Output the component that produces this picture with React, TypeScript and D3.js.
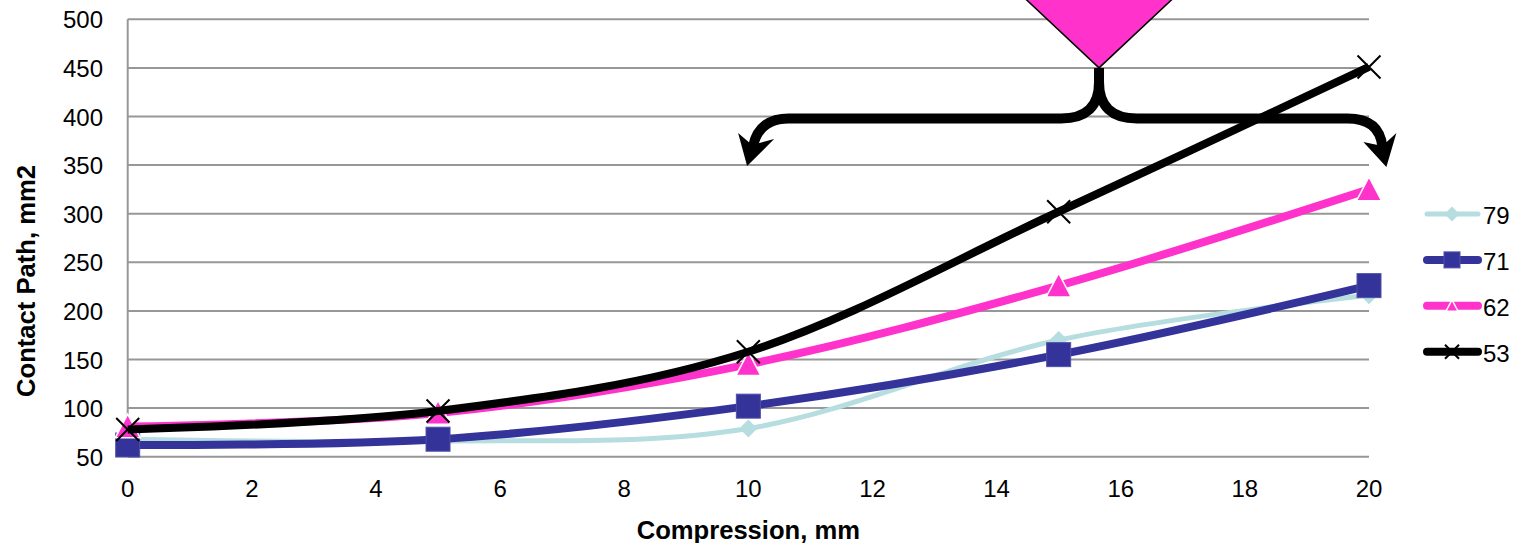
import React, { useEffect, useRef } from 'react';
import * as d3 from 'd3';

const compression = [0, 5, 10, 15, 20];
const seriesNames = ['79', '71', '62', '53'];
const values79 = [68, 66, 79, 170, 216];
const values71 = [62, 68, 102, 155, 226];
const values62 = [81, 95, 145, 226, 325];
const values53 = [78, 97, 158, 302, 451];
const xTicks = [0, 2, 4, 6, 8, 10, 12, 14, 16, 18, 20];
const yTicks = [50, 100, 150, 200, 250, 300, 350, 400, 450, 500];

const FONT = '"Liberation Sans", Arial, sans-serif';
const GRID = '#979797';

const STYLES = {
  '79': { color: '#b6dde0', width: 5, marker: 'diamond' },
  '71': { color: '#333399', width: 8, marker: 'square' },
  '62': { color: '#ff33cc', width: 8, marker: 'triangle' },
  '53': { color: '#000000', width: 8, marker: 'cross' }
};

function drawMarker(g, kind, color, cx, cy, size) {
  const h = size / 2;
  if (kind === 'diamond') {
    g.append('path')
      .attr('d', `M${cx},${cy - h}L${cx + h},${cy}L${cx},${cy + h}L${cx - h},${cy}Z`)
      .attr('fill', color);
  } else if (kind === 'square') {
    g.append('rect')
      .attr('x', cx - h).attr('y', cy - h)
      .attr('width', size).attr('height', size)
      .attr('fill', color)
      .attr('stroke', '#5050a8')
      .attr('stroke-width', 1);
  } else if (kind === 'triangle') {
    g.append('path')
      .attr('d', `M${cx},${cy - h}L${cx + h},${cy + h * 0.9}L${cx - h},${cy + h * 0.9}Z`)
      .attr('fill', color)
      .attr('stroke', '#ffffff')
      .attr('stroke-width', 1.5);
  } else {
    g.append('path')
      .attr('d', `M${cx - h},${cy - h}L${cx + h},${cy + h}M${cx + h},${cy - h}L${cx - h},${cy + h}`)
      .attr('stroke', color)
      .attr('stroke-width', 2)
      .attr('fill', 'none');
  }
}

function drawChart(node) {
  const width = 1524;
  const height = 543;
  const root = d3.select(node);
  root.selectAll('*').remove();

  const svg = root.append('svg')
    .attr('width', width)
    .attr('height', height)
    .style('position', 'absolute')
    .style('left', '0px')
    .style('top', '0px')
    .style('background', '#fff')
    .attr('font-family', FONT);

  const x = d3.scaleLinear().domain([0, 20]).range([127.7, 1369]);
  const y = d3.scaleLinear().domain([50, 500]).range([456.7, 19.3]);

  // gridlines
  svg.append('g')
    .selectAll('line')
    .data(yTicks)
    .join('line')
    .attr('x1', x(0))
    .attr('x2', x(20))
    .attr('y1', (d) => y(d))
    .attr('y2', (d) => y(d))
    .attr('stroke', GRID)
    .attr('stroke-width', 2);

  svg.append('line')
    .attr('x1', x(0)).attr('x2', x(0))
    .attr('y1', y(500)).attr('y2', y(50))
    .attr('stroke', GRID)
    .attr('stroke-width', 2);

  svg.append('g')
    .selectAll('text')
    .data(yTicks)
    .join('text')
    .attr('x', 103)
    .attr('y', (d) => y(d) + 9)
    .attr('text-anchor', 'end')
    .attr('font-size', 24)
    .attr('fill', '#000')
    .text((d) => d);

  svg.append('g')
    .selectAll('text')
    .data(xTicks)
    .join('text')
    .attr('x', (d) => x(d))
    .attr('y', 497)
    .attr('text-anchor', 'middle')
    .attr('font-size', 24)
    .attr('fill', '#000')
    .text((d) => d);

  svg.append('text')
    .attr('x', x(10))
    .attr('y', 539)
    .attr('text-anchor', 'middle')
    .attr('font-size', 25.6)
    .attr('font-weight', 'bold')
    .text('Compression, mm');

  svg.append('text')
    .attr('transform', `translate(35,281) rotate(-90)`)
    .attr('text-anchor', 'middle')
    .attr('font-size', 25.6)
    .attr('font-weight', 'bold')
    .text('Contact Path, mm2');

  const allValues = [values79, values71, values62, values53];
  const line = d3.line()
    .x((d, i) => x(compression[i]))
    .y((d) => y(d))
    .curve(d3.curveCardinal.tension(0));

  const sizes = { diamond: 18, square: 24, triangle: 25, cross: 23 };

  seriesNames.forEach((name, si) => {
    const st = STYLES[name];
    const g = svg.append('g');
    g.append('path')
      .datum(allValues[si])
      .attr('d', line)
      .attr('fill', 'none')
      .attr('stroke', st.color)
      .attr('stroke-width', st.width)
      .attr('stroke-linejoin', 'round');
    allValues[si].forEach((v, i) => {
      drawMarker(g, st.marker, st.color, x(compression[i]), y(v), sizes[st.marker]);
    });
  });

  // legend
  const legendSizes = { diamond: 15, square: 16, triangle: 12, cross: 14 };
  const legend = svg.append('g');
  seriesNames.forEach((name, i) => {
    const st = STYLES[name];
    const ly = 214 + i * 45.9;
    legend.append('line')
      .attr('x1', 1427).attr('x2', 1478)
      .attr('y1', ly).attr('y2', ly)
      .attr('stroke', st.color)
      .attr('stroke-width', st.width)
      .attr('stroke-linecap', 'round');
    drawMarker(legend, st.marker, st.color, 1452, ly, legendSizes[st.marker]);
    legend.append('text')
      .attr('x', 1483)
      .attr('y', ly + 10)
      .attr('font-size', 24)
      .text(name);
  });

  // annotation: pointer and brace
  const ax = x(15.65);
  const ay = y(450);
  const by = y(398);
  const leftEnd = x(10.65);
  const rightEnd = x(19.65);
  const leftTip = [x(9.98), y(349)];
  const rightTip = [x(20.28), y(348)];

  svg.append('path')
    .attr('d', `M${ax},${ay}L${ax - 82},${ay - 77}L${ax + 82},${ay - 77}Z`)
    .attr('fill', '#ff33cc')
    .attr('stroke', '#000')
    .attr('stroke-width', 1.5);

  const brace = svg.append('g')
    .attr('fill', 'none')
    .attr('stroke', '#000')
    .attr('stroke-width', 10);

  brace.append('path')
    .attr('d', `M${ax},${ay}L${ax},${ay + 14}Q${ax},${by} ${ax - 38},${by}L${leftEnd},${by}`
      + `C${leftEnd - 18},${by} ${leftTip[0] + 10},${by + 8} ${leftTip[0] + 6},${leftTip[1] - 20}`);

  brace.append('path')
    .attr('d', `M${ax},${ay + 14}Q${ax},${by} ${ax + 38},${by}L${rightEnd},${by}`
      + `C${rightEnd + 20},${by} ${rightTip[0] - 6},${by + 8} ${rightTip[0] - 4},${rightTip[1] - 20}`);

  svg.append('path')
    .attr('d', `M${leftTip[0]},${leftTip[1]}l-9,-33l14,12l22,-6Z`)
    .attr('fill', '#000');

  svg.append('path')
    .attr('d', `M${rightTip[0]},${rightTip[1]}l10,-34l-14,13l-19,-4Z`)
    .attr('fill', '#000');
}

export default function App() {
  const ref = useRef(null);

  useEffect(() => {
    drawChart(ref.current);
  }, []);

  return <div ref={ref} />;
}
